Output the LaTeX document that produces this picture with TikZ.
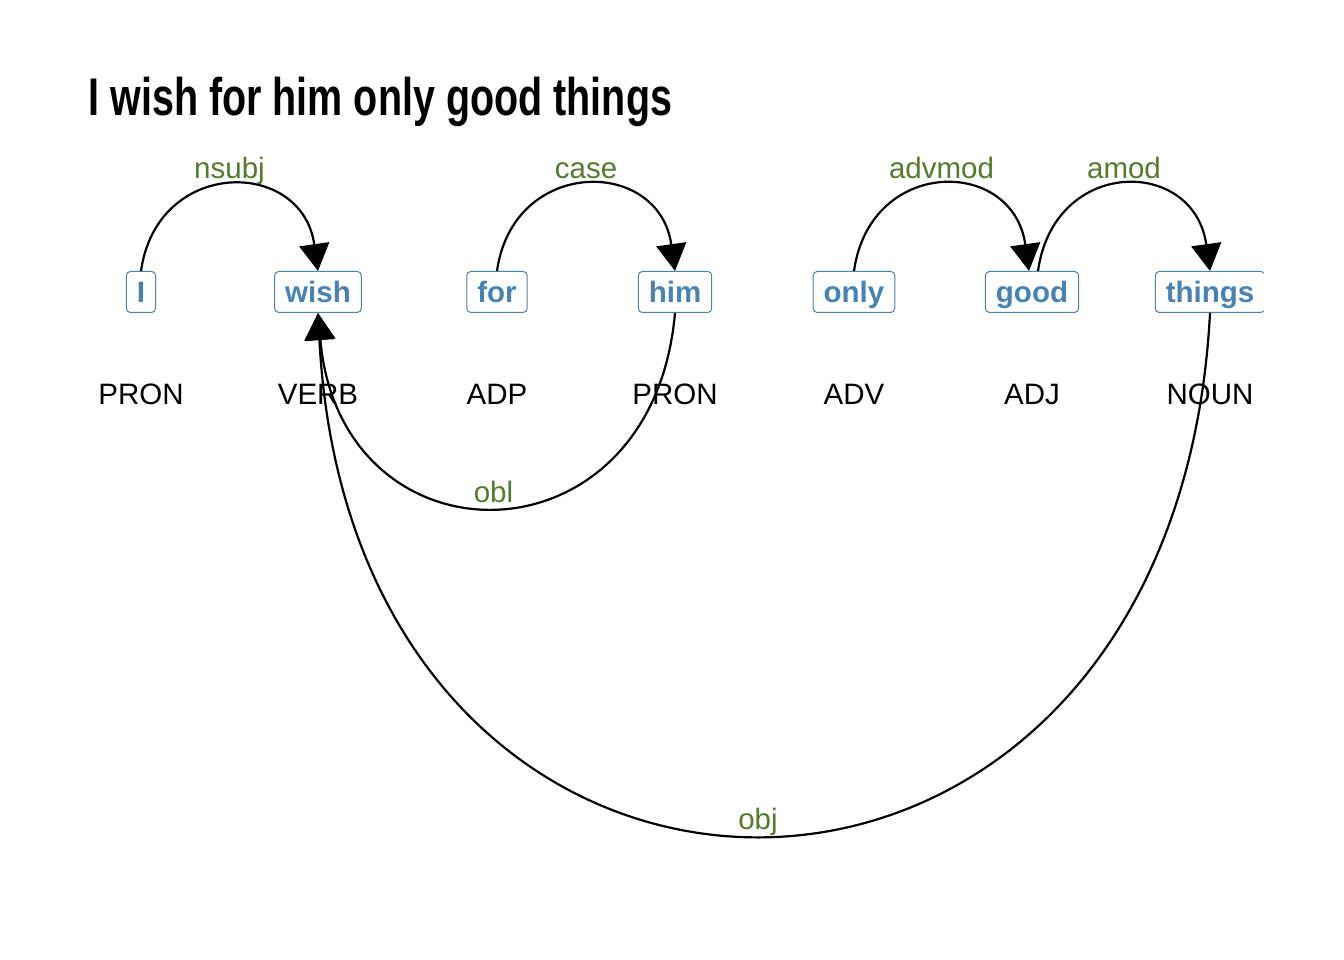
\documentclass[tikz,border=0pt]{standalone}
\usepackage{fontspec}
\setmainfont{Liberation Sans}
\newfontfamily\titlefont[FakeStretch=0.745]{Liberation Sans}
\usetikzlibrary{arrows.meta}
\definecolor{wordblue}{RGB}{70,130,180}
\definecolor{relgreen}{RGB}{84,122,43}
\tikzset{
  word/.style={draw=wordblue, line width=1pt, rounded corners=4pt, fill=white,
    text=wordblue, font=\fontsize{29.5}{30}\selectfont\bfseries,
    inner xsep=10.5pt, inner ysep=0pt, minimum height=41pt,
    text height=21.5pt, text depth=0pt},
  tag/.style={font=\fontsize{29.5}{30}\selectfont, anchor=base},
  dep/.style={line width=2.2pt, -{Triangle[length=27pt,width=30pt]}},
  rel/.style={text=relgreen, font=\fontsize{29.5}{30}\selectfont,
    anchor=base, inner sep=0pt, yshift=7pt},
}
\begin{document}
\begin{tikzpicture}[x=1pt, y=1pt]
    \useasboundingbox (0, 0) rectangle (1344, 960);
        \node [anchor=base west, font={\titlefont\bfseries\fontsize{53}{60}\selectfont}] (title) at (85, 844) {I wish for him only good things};
        % words
        \node [word] (I) at (141, 668) {I};
        \node [word] (wish) at (318, 668) {wish};
        \node [word] (for) at (497, 668) {for};
        \node [word] (him) at (675, 668) {him};
        \node [word] (only) at (854, 668) {only};
        \node [word] (good) at (1032, 668) {good};
        \begin{scope}
            \clip (0, 0) rectangle (1263.5, 960);
            \node [word] (things) at (1210, 668) {things};
        \end{scope}
        % tags
        \node [tag] (posI) at (141, 555) {PRON};
        \node [tag] (poswish) at (318, 555) {VERB};
        \node [tag] (posfor) at (497, 555) {ADP};
        \node [tag] (poshim) at (675, 555) {PRON};
        \node [tag] (posonly) at (854, 555) {ADV};
        \node [tag] (posgood) at (1032, 555) {ADJ};
        \node [tag] (posthings) at (1210, 555) {NOUN};
        % arcs
        \draw [dep] (I.north) to [out=82, in=98, looseness=1.66] node [rel, pos=0.5] {nsubj} (wish.north);
        \draw [dep] (for.north) to [out=82, in=98, looseness=1.66] node [rel, pos=0.5] {case} (him.north);
        \draw [dep] (only.north) to [out=82, in=98, looseness=1.69] node [rel, pos=0.5] {advmod} ([xshift=-3pt]good.north);
        \draw [dep] ([xshift=6pt]good.north) to [out=82, in=98, looseness=1.72] node [rel, pos=0.5] {amod} (things.north);
        \draw [dep] (him.south) to [out=-95, in=-85, looseness=1.86] node [rel, pos=0.5, xshift=-3pt, yshift=-3pt] {obl} (wish.south);
        \draw [dep] (things.south) to [out=-93, in=-87, looseness=2.0] node [rel, pos=0.5, xshift=-6pt, yshift=-2pt] {obj} (wish.south);
    \end{tikzpicture}
\end{document}
